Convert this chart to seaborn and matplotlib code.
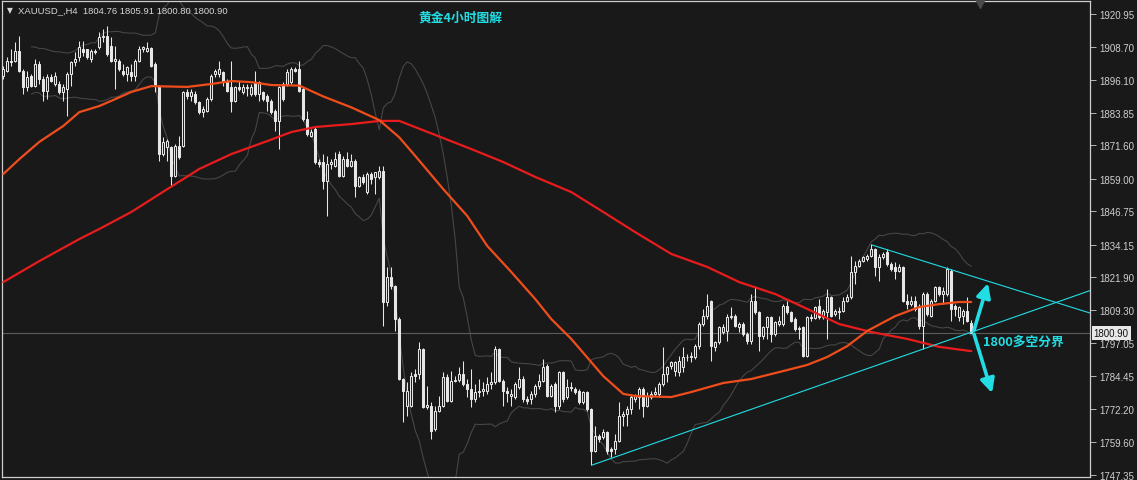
import numpy as np
import pandas as pd
import matplotlib
matplotlib.use("Agg")
import matplotlib.pyplot as plt
import seaborn as sns

# H4 candles (oldest first)
opens = [
    1897.7, 1899.6, 1903.4, 1903.4, 1907.1, 1899.6, 1893.3, 1897.7, 1894.0, 1902.1,
    1896.5, 1892.1, 1897.1, 1894.6, 1894.6, 1891.5, 1892.7, 1898.4, 1902.8, 1904.6,
    1907.8, 1907.8, 1904.0, 1907.1, 1908.4, 1912.2, 1912.8, 1909.0, 1903.4, 1903.4,
    1899.6, 1898.4, 1899.0, 1897.7, 1903.4, 1907.8, 1907.1, 1908.0, 1902.1, 1894.0,
    1868.2, 1870.8, 1870.8, 1860.1, 1871.4, 1871.4, 1891.5, 1890.2, 1890.8, 1887.7,
    1883.9, 1884.6, 1888.9, 1898.4, 1898.4, 1899.0, 1895.9, 1893.3, 1888.3, 1893.3,
    1891.5, 1893.3, 1890.8, 1895.2, 1890.8, 1891.5, 1890.2, 1888.3, 1884.6, 1880.8,
    1894.6, 1894.6, 1895.2, 1900.2, 1900.2, 1892.7, 1881.4, 1875.1, 1877.7, 1865.1,
    1865.1, 1858.2, 1864.5, 1863.8, 1868.2, 1860.1, 1866.4, 1863.8, 1865.7, 1856.3,
    1859.5, 1853.8, 1860.7, 1859.5, 1859.5, 1862.0, 1812.4, 1821.8, 1818.6, 1806.1,
    1783.5, 1773.5, 1773.5, 1785.4, 1785.4, 1794.8, 1772.8, 1773.5, 1764.7, 1771.6,
    1773.5, 1784.1, 1775.4, 1782.9, 1783.3, 1785.4, 1781.6, 1779.8, 1776.0, 1778.5,
    1778.8, 1779.1, 1781.6, 1782.3, 1794.8, 1782.9, 1779.1, 1777.2, 1776.6, 1780.4,
    1783.5, 1776.0, 1776.0, 1777.9, 1781.0, 1782.9, 1788.5, 1777.2, 1781.6, 1773.5,
    1786.0, 1776.6, 1780.4, 1779.8, 1779.1, 1774.7, 1778.5, 1772.2, 1756.5, 1762.2,
    1761.5, 1763.4, 1757.2, 1757.2, 1760.3, 1769.7, 1770.3, 1772.2, 1776.0, 1776.6,
    1779.8, 1773.5, 1776.6, 1777.9, 1777.9, 1781.6, 1785.4, 1788.5, 1786.6, 1786.0,
    1787.9, 1791.7, 1791.7, 1791.7, 1796.1, 1804.2, 1807.4, 1813.0, 1795.4, 1797.3,
    1801.1, 1801.7, 1806.7, 1807.4, 1803.0, 1804.2, 1800.5, 1798.0, 1813.0, 1808.6,
    1799.8, 1803.0, 1806.7, 1800.5, 1804.2, 1804.2, 1811.1, 1808.6, 1806.1, 1802.3,
    1803.0, 1792.3, 1806.7, 1806.5, 1811.1, 1806.7, 1808.6, 1814.3, 1808.0, 1808.6,
    1809.2, 1813.0, 1814.3, 1823.7, 1826.2, 1828.1, 1828.7, 1830.0, 1832.5, 1825.6,
    1829.3, 1831.2, 1826.8, 1825.6, 1824.3, 1825.6, 1813.0, 1811.7, 1813.0, 1811.1,
    1803.6, 1815.5, 1807.4, 1813.0, 1818.0, 1815.5, 1815.5, 1824.3, 1811.1, 1806.7,
    1807.4, 1809.2, 1804.76,
]
highs = [
    1901.5, 1904.6, 1907.8, 1910.3, 1912.8, 1900.2, 1899.6, 1898.4, 1904.0, 1903.4,
    1897.7, 1898.4, 1898.4, 1899.0, 1895.9, 1894.6, 1899.0, 1903.4, 1906.5, 1910.9,
    1910.9, 1907.8, 1907.8, 1907.8, 1914.0, 1915.3, 1916.6, 1912.2, 1909.0, 1904.0,
    1902.1, 1901.5, 1902.1, 1904.0, 1909.0, 1909.0, 1910.3, 1908.4, 1902.8, 1894.2,
    1874.5, 1873.9, 1871.4, 1872.0, 1875.1, 1892.1, 1892.7, 1892.7, 1892.1, 1888.3,
    1886.4, 1889.6, 1898.4, 1900.2, 1903.4, 1899.6, 1896.5, 1903.4, 1894.0, 1895.9,
    1894.6, 1894.6, 1894.6, 1899.6, 1895.9, 1892.1, 1890.8, 1888.9, 1885.2, 1894.0,
    1895.2, 1900.2, 1900.9, 1900.9, 1903.4, 1893.3, 1884.6, 1877.7, 1878.3, 1866.4,
    1868.2, 1867.6, 1866.4, 1868.9, 1869.5, 1867.6, 1868.9, 1868.2, 1866.4, 1860.1,
    1860.7, 1861.3, 1861.3, 1861.5, 1863.8, 1863.8, 1825.5, 1825.5, 1818.9, 1806.7,
    1783.8, 1782.3, 1786.0, 1787.3, 1797.3, 1795.0, 1781.0, 1774.7, 1773.5, 1777.2,
    1786.0, 1785.4, 1786.6, 1784.8, 1787.9, 1790.4, 1783.5, 1787.3, 1781.6, 1783.5,
    1782.3, 1784.1, 1786.0, 1796.1, 1795.0, 1783.5, 1780.4, 1779.8, 1782.3, 1787.9,
    1784.8, 1777.2, 1779.1, 1781.6, 1785.4, 1791.0, 1789.2, 1781.6, 1782.3, 1786.6,
    1786.6, 1783.5, 1782.3, 1780.4, 1779.8, 1779.1, 1778.8, 1772.5, 1765.9, 1762.8,
    1764.7, 1764.0, 1757.8, 1762.8, 1774.7, 1771.6, 1773.5, 1777.9, 1777.9, 1780.4,
    1780.4, 1778.5, 1779.1, 1780.4, 1782.3, 1795.4, 1788.5, 1790.4, 1790.4, 1792.3,
    1795.4, 1792.9, 1793.5, 1796.7, 1804.8, 1809.9, 1815.5, 1813.2, 1797.9, 1803.6,
    1804.2, 1808.0, 1810.5, 1808.0, 1804.8, 1804.8, 1801.1, 1815.5, 1818.7, 1809.2,
    1803.6, 1807.4, 1807.4, 1805.5, 1807.4, 1811.7, 1813.0, 1809.2, 1806.7, 1803.6,
    1803.6, 1807.4, 1808.0, 1811.1, 1813.6, 1809.9, 1817.4, 1814.9, 1809.9, 1810.5,
    1814.3, 1815.5, 1830.0, 1828.1, 1828.7, 1830.0, 1830.6, 1834.3, 1832.7, 1830.6,
    1831.2, 1832.5, 1827.4, 1827.4, 1826.8, 1826.2, 1815.5, 1814.9, 1814.9, 1811.7,
    1816.1, 1816.1, 1813.6, 1818.7, 1818.7, 1818.0, 1825.6, 1824.9, 1811.7, 1811.1,
    1809.9, 1814.3, 1805.91,
]
lows = [
    1896.5, 1899.0, 1901.5, 1902.8, 1899.0, 1890.8, 1892.1, 1893.3, 1893.3, 1894.6,
    1888.3, 1888.9, 1895.2, 1894.0, 1890.8, 1888.3, 1882.7, 1894.0, 1901.5, 1903.4,
    1905.3, 1904.0, 1902.8, 1905.9, 1907.8, 1910.3, 1905.3, 1902.8, 1892.7, 1899.6,
    1897.7, 1895.9, 1895.9, 1895.9, 1902.8, 1906.5, 1906.5, 1900.9, 1891.5, 1865.7,
    1867.6, 1865.7, 1856.3, 1859.5, 1866.4, 1870.8, 1888.9, 1888.3, 1887.1, 1883.3,
    1882.0, 1883.9, 1888.3, 1897.1, 1897.1, 1894.0, 1891.5, 1883.9, 1887.7, 1892.1,
    1890.8, 1890.2, 1890.2, 1890.2, 1888.3, 1888.3, 1884.6, 1883.3, 1877.0, 1870.1,
    1888.3, 1894.0, 1894.6, 1899.0, 1891.5, 1880.8, 1875.1, 1874.5, 1864.5, 1863.2,
    1855.1, 1845.0, 1862.6, 1863.2, 1859.5, 1859.5, 1863.2, 1863.2, 1851.9, 1855.7,
    1856.9, 1853.2, 1856.9, 1853.2, 1858.8, 1803.6, 1811.1, 1817.4, 1801.7, 1783.3,
    1767.2, 1769.7, 1772.8, 1782.3, 1783.5, 1772.6, 1772.2, 1760.9, 1764.0, 1770.9,
    1772.8, 1774.7, 1774.7, 1782.3, 1782.3, 1781.0, 1776.6, 1772.8, 1774.7, 1776.6,
    1777.2, 1777.9, 1779.8, 1781.6, 1782.3, 1773.5, 1774.7, 1773.5, 1776.0, 1779.8,
    1774.7, 1774.1, 1774.1, 1776.6, 1779.8, 1782.3, 1776.6, 1776.6, 1770.9, 1772.2,
    1774.7, 1776.0, 1779.1, 1777.9, 1774.1, 1774.1, 1771.6, 1751.3, 1755.9, 1759.7,
    1760.9, 1755.3, 1754.0, 1755.3, 1759.7, 1765.9, 1765.9, 1770.3, 1774.7, 1772.2,
    1769.1, 1772.8, 1776.0, 1777.2, 1776.6, 1781.0, 1782.3, 1787.3, 1784.8, 1784.8,
    1786.0, 1790.4, 1789.8, 1791.0, 1794.8, 1803.6, 1806.1, 1790.4, 1794.2, 1796.7,
    1800.5, 1797.9, 1806.1, 1803.0, 1801.1, 1799.8, 1796.7, 1796.7, 1808.0, 1794.2,
    1798.6, 1798.6, 1797.3, 1799.8, 1803.6, 1803.6, 1808.0, 1804.8, 1801.7, 1798.6,
    1791.7, 1791.7, 1805.5, 1806.1, 1806.1, 1806.1, 1798.6, 1806.7, 1807.4, 1806.1,
    1808.6, 1812.4, 1813.6, 1819.3, 1825.6, 1827.4, 1828.1, 1829.3, 1822.4, 1820.5,
    1828.7, 1826.2, 1824.3, 1821.2, 1823.7, 1812.4, 1809.9, 1811.1, 1809.2, 1802.3,
    1794.8, 1807.4, 1806.7, 1812.4, 1814.9, 1811.7, 1814.9, 1805.5, 1807.4, 1805.5,
    1804.2, 1804.8, 1800.80,
]
closes = [
    1900.2, 1903.4, 1902.8, 1907.1, 1899.6, 1893.3, 1897.1, 1894.0, 1902.1, 1896.5,
    1892.1, 1897.1, 1895.9, 1897.7, 1891.5, 1893.3, 1898.4, 1902.8, 1904.0, 1908.4,
    1906.5, 1904.6, 1907.1, 1906.8, 1912.2, 1912.5, 1905.9, 1903.4, 1904.0, 1900.2,
    1898.4, 1900.9, 1897.7, 1903.4, 1907.8, 1908.4, 1908.0, 1901.5, 1894.0, 1868.2,
    1872.6, 1873.3, 1860.1, 1871.4, 1867.0, 1891.5, 1890.2, 1891.7, 1887.7, 1883.9,
    1885.2, 1888.9, 1897.7, 1899.6, 1900.2, 1895.2, 1892.1, 1888.3, 1893.3, 1892.7,
    1893.3, 1893.1, 1893.3, 1890.8, 1895.2, 1888.9, 1888.3, 1883.9, 1880.8, 1893.3,
    1888.9, 1899.0, 1900.2, 1899.6, 1892.1, 1881.4, 1875.8, 1876.4, 1865.1, 1864.5,
    1858.2, 1864.5, 1865.1, 1866.4, 1860.1, 1866.4, 1863.8, 1865.7, 1856.3, 1859.5,
    1857.6, 1860.7, 1858.8, 1861.3, 1862.0, 1812.4, 1821.8, 1818.6, 1806.1, 1783.5,
    1779.1, 1779.1, 1784.8, 1784.8, 1794.8, 1772.8, 1773.7, 1764.0, 1771.6, 1773.5,
    1784.1, 1775.4, 1782.9, 1783.3, 1785.4, 1781.6, 1779.8, 1776.0, 1778.5, 1778.8,
    1779.8, 1781.6, 1782.3, 1794.8, 1782.9, 1779.1, 1778.2, 1777.9, 1781.6, 1783.5,
    1776.0, 1775.4, 1777.9, 1781.0, 1782.9, 1787.9, 1777.2, 1781.0, 1773.5, 1786.0,
    1776.0, 1780.4, 1780.1, 1778.5, 1774.7, 1778.5, 1772.2, 1756.5, 1762.2, 1760.9,
    1763.4, 1756.5, 1756.5, 1760.3, 1769.7, 1770.3, 1772.2, 1776.6, 1777.2, 1779.8,
    1773.5, 1777.2, 1777.9, 1778.5, 1781.6, 1785.4, 1787.9, 1789.8, 1789.8, 1790.4,
    1791.7, 1791.9, 1792.3, 1796.1, 1804.2, 1807.4, 1811.1, 1796.1, 1797.3, 1803.0,
    1803.0, 1806.7, 1807.4, 1803.6, 1804.2, 1800.5, 1798.0, 1813.0, 1808.6, 1799.8,
    1803.0, 1806.7, 1800.5, 1804.8, 1805.5, 1811.1, 1808.6, 1805.5, 1802.3, 1802.7,
    1792.3, 1806.7, 1806.5, 1810.5, 1806.7, 1809.2, 1814.3, 1807.4, 1809.2, 1809.2,
    1813.0, 1814.3, 1823.7, 1826.2, 1828.1, 1829.3, 1830.0, 1832.5, 1825.6, 1829.3,
    1830.6, 1826.8, 1824.9, 1824.3, 1825.6, 1813.0, 1811.7, 1813.0, 1809.9, 1803.6,
    1815.5, 1808.0, 1813.0, 1818.0, 1815.5, 1816.8, 1824.9, 1809.9, 1809.9, 1810.5,
    1809.2, 1805.5, 1800.90,
]

# moving averages, sampled along the lines (candle index, price)
ma_fast_idx = [0, 4, 9, 15, 19, 24, 28, 32, 37, 46, 52, 57, 62, 67, 74, 80, 87, 94,
               99, 103, 110, 116, 121, 127, 133, 137, 142, 150, 155, 158, 167, 172,
               180, 187, 195, 201, 206, 211, 216, 223, 229, 234, 239, 242]
ma_fast_val = [1860.7, 1866.3, 1872.8, 1878.8, 1884.0, 1886.3, 1888.9, 1891.6, 1893.8,
               1893.5, 1894.6, 1895.7, 1895.3, 1894.2, 1894.0, 1889.9, 1885.8, 1881.0,
               1874.5, 1867.5, 1855.0, 1844.9, 1833.6, 1823.8, 1813.6, 1806.1, 1798.6,
               1784.6, 1777.9, 1777.1, 1776.7, 1778.6, 1782.0, 1783.5, 1786.5, 1788.8,
               1791.8, 1795.9, 1801.6, 1807.2, 1810.6, 1811.7, 1812.5, 1812.5]
ma_slow_idx = [0, 9, 19, 24, 32, 41, 49, 57, 66, 72, 78, 87, 94, 99, 117, 125, 133,
               142, 150, 158, 167, 176, 184, 193, 201, 209, 217, 226, 234, 242]
ma_slow_val = [1820.0, 1827.9, 1836.2, 1840.0, 1846.4, 1855.0, 1862.6, 1868.2, 1873.1,
               1876.5, 1878.4, 1879.5, 1880.7, 1880.7, 1870.1, 1865.2, 1859.6, 1853.9,
               1846.4, 1838.8, 1830.6, 1825.7, 1820.0, 1815.5, 1809.9, 1804.2, 1801.2,
               1798.6, 1795.6, 1794.0]

# hand drawn trend lines
upper_trend_idx = [217.2, 271.7]
upper_trend_val = [1833.96, 1808.35]
lower_trend_idx = [147.2, 271.7]
lower_trend_val = [1751.1, 1816.8]

yticks = [1920.95, 1908.70, 1896.10, 1883.85, 1871.60, 1859.00, 1846.75, 1834.15,
          1821.90, 1809.30, 1797.05, 1784.45, 1772.20, 1759.60, 1747.35]
last_price = 1800.90

bg = "#191919"
white = "#e6e6e6"
cyan = "#22dde3"
cjk = ["Noto Sans CJK SC", "DejaVu Sans"]

sns.set_theme(style="dark", rc={"axes.facecolor": bg, "figure.facecolor": bg})
plt.rcParams["font.family"] = ["Liberation Sans", "DejaVu Sans"]

df = pd.DataFrame({"open": opens, "high": highs, "low": lows, "close": closes})
df["idx"] = np.arange(len(df))
bull = df["close"] >= df["open"]

# bollinger bands (20, 2)
mid = df["close"].rolling(20, min_periods=8).mean()
sd = df["close"].rolling(20, min_periods=8).std(ddof=0)
df["bb_up"] = mid + 2 * sd
df["bb_dn"] = mid - 2 * sd

fig = plt.figure(figsize=(11.37, 4.81), dpi=100)
ax = fig.add_axes([2 / 1137, 3 / 481, 1088 / 1137, 476 / 481])
ax.set_facecolor(bg)

sns.lineplot(data=df, x="idx", y="bb_up", ax=ax, color="#464646", lw=0.8, zorder=1)
sns.lineplot(data=df, x="idx", y="bb_dn", ax=ax, color="#464646", lw=0.8, zorder=1)

ax.axhline(last_price, color="#5c5c5c", lw=0.8, zorder=1)

# candles: hollow = up, filled = down
ax.vlines(df["idx"], df["low"], df["high"], color=white, lw=0.75, zorder=2)
body_lo = np.minimum(df["open"], df["close"])
body_h = (df["close"] - df["open"]).abs()
faces = [bg if b else white for b in bull]
ax.bar(df["idx"], body_h, bottom=body_lo, width=0.5, color=faces,
       edgecolor=white, linewidth=0.75, zorder=3)

sns.lineplot(x=ma_slow_idx, y=ma_slow_val, ax=ax, color="#e81c1c", lw=1.6, zorder=4)
sns.lineplot(x=ma_fast_idx, y=ma_fast_val, ax=ax, color="#f04d1c", lw=1.6, zorder=4)

sns.lineplot(x=upper_trend_idx, y=upper_trend_val, ax=ax, color=cyan, lw=0.8, zorder=5)
sns.lineplot(x=lower_trend_idx, y=lower_trend_val, ax=ax, color=cyan, lw=0.8, zorder=5)

# breakout arrows
arrow_kw = dict(arrowstyle="-|>,head_length=0.6,head_width=0.3", color=cyan, lw=2.6,
                shrinkA=0, shrinkB=0, mutation_scale=14)
ax.annotate("", xy=(246.2, 1819.6), xytext=(242.7, 1801.9), arrowprops=arrow_kw, zorder=6)
ax.annotate("", xy=(247.2, 1778.2), xytext=(242.7, 1800.4), arrowprops=arrow_kw, zorder=6)
ax.text(244.9, 1797.8, "1800多空分界", color=cyan, fontsize=9.2, fontweight="bold",
        family=cjk, va="center", ha="left", zorder=6)

ax.set_xlim(-0.33, 271.7)
ax.set_ylim(1746.6, 1925.85)
ax.set_xlabel("")
ax.set_ylabel("")
ax.set_xticks([])
ax.yaxis.tick_right()
ax.set_yticks(yticks)
ax.set_yticklabels([f"{v:.2f}" for v in yticks])
ax.tick_params(axis="y", which="both", right=True, left=False, direction="out",
               length=4, width=0.7, color="#b4b4b4", labelcolor="#cfcfcf",
               labelsize=7.0, pad=3)
ax.grid(False)
for s in ax.spines.values():
    s.set_color("#cfcfcf")
    s.set_linewidth(0.9)
    s.set_visible(True)

# chart shift marker
ax.plot([244.3], [1924.6], marker="v", color="#4a4a4a", ms=6, clip_on=False, zorder=6)

# current price tag
ax.text(1.0035, last_price, f"{last_price:.2f}", transform=ax.get_yaxis_transform(),
        ha="left", va="center", fontsize=7.0, color="#111111",
        bbox=dict(boxstyle="square,pad=0.22", facecolor="#e8e8e8", edgecolor="none"))

# header and title
fig.text(7 / 1137, 1 - 11 / 481, "▼", color="#d6d6d6", fontsize=5.5,
         family=["DejaVu Sans"], va="center")
fig.text(18 / 1137, 1 - 11 / 481, "XAUUSD_,H4  1804.76 1805.91 1800.80 1800.90",
         color="#d6d6d6", fontsize=6.8, va="center")
fig.text(460 / 1137, 1 - 18 / 481, "黄金4小时图解", color=cyan, fontsize=9.2,
         fontweight="bold", family=cjk, ha="center", va="center")

fig.savefig("out.png", dpi=100, facecolor=bg)
